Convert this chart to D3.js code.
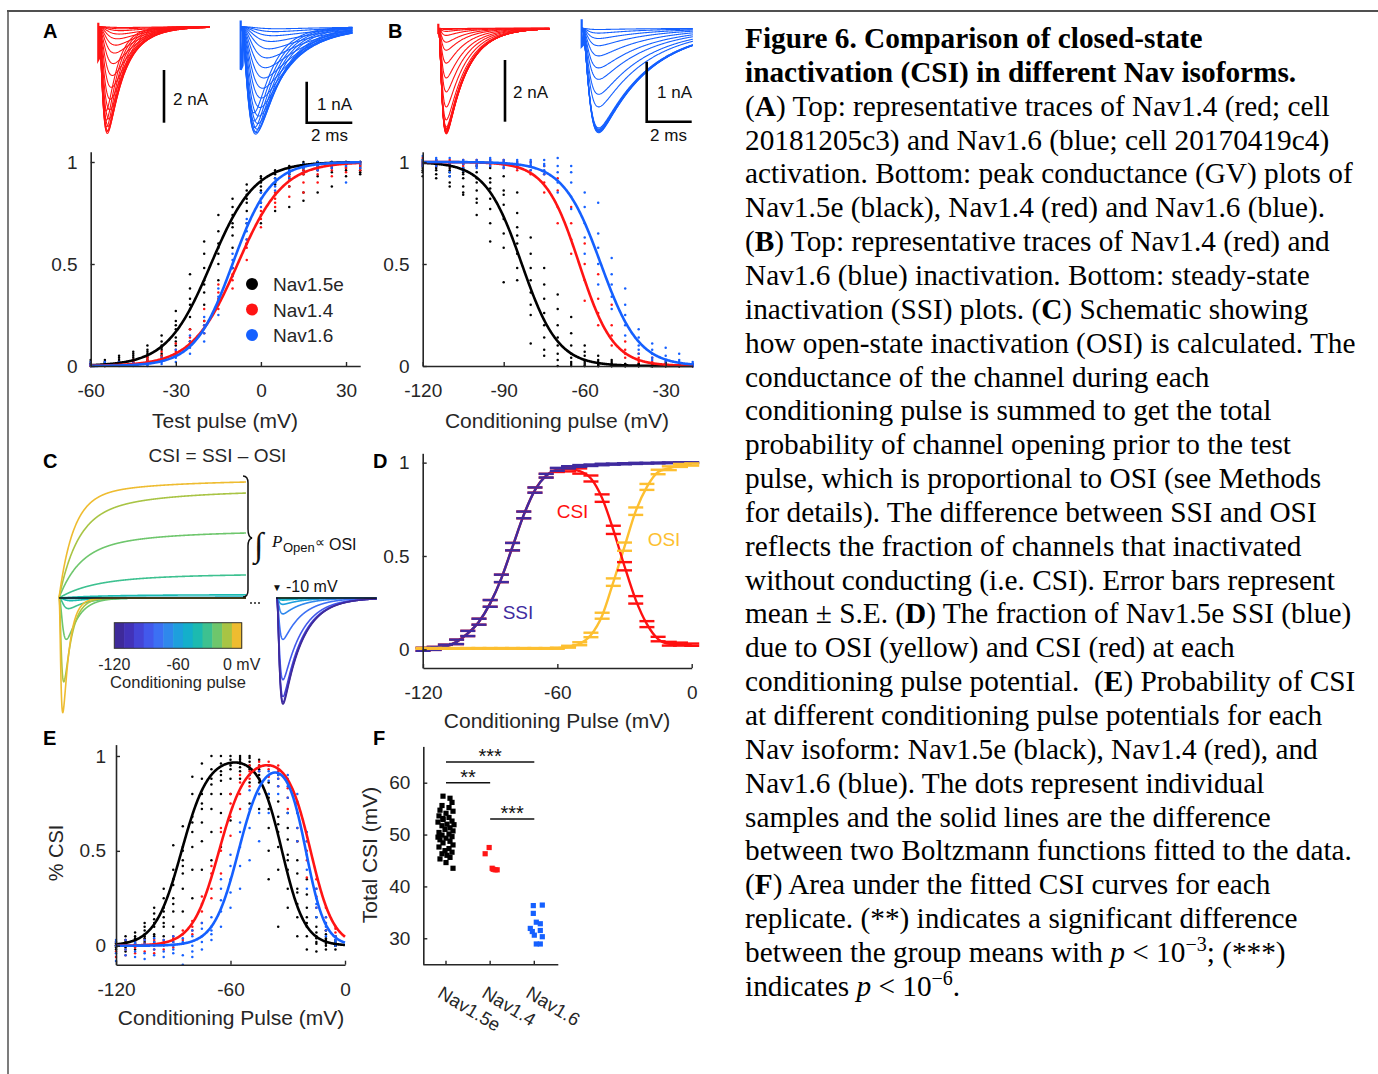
<!DOCTYPE html>
<html><head><meta charset="utf-8">
<script src="https://cdn.jsdelivr.net/npm/d3@7/dist/d3.min.js"></script>
<style>
html,body{margin:0;padding:0;background:#fff;}
svg{display:block;}
text{white-space:pre;}
</style></head>
<body>
<svg id="fig" width="1378" height="1074"></svg>
<script>
// ================= DATA =================
const isoforms = ["Nav1.5e", "Nav1.4", "Nav1.6"];
const isoColors = ["#000000", "#ff1414", "#1560ff"];

// ---- Panel A (bottom): activation GV, individual cells ----
const actV = [-60,-55,-50,-45,-40,-35,-30,-25,-20,-15,-10,-5,0,5,10,15,20,25,30,35];
const actBlack = [
[0,0.01,0.01,0.02,0,0.01,0.03,0.005],[0,0.01,0.02,0.01,0.03,0.005,0.015,0.02],
[0.01,0.02,0.03,0.04,0.01,0.02,0.05,0.015],[0.01,0.03,0.04,0.05,0.02,0.06,0.03,0.07],
[0.02,0.04,0.06,0.08,0.03,0.05,0.1,0.07],[0.03,0.06,0.09,0.12,0.15,0.05,0.1,0.08],
[0.05,0.1,0.14,0.18,0.22,0.27,0.12,0.2],[0.12,0.18,0.24,0.28,0.33,0.38,0.45,0.3],
[0.22,0.3,0.36,0.42,0.48,0.55,0.61,0.4],[0.32,0.42,0.5,0.55,0.6,0.66,0.74,0.58],
[0.48,0.58,0.64,0.7,0.74,0.78,0.82,0.68],[0.6,0.7,0.76,0.8,0.84,0.86,0.89,0.82],
[0.7,0.8,0.85,0.88,0.9,0.92,0.93,0.86],[0.76,0.84,0.89,0.92,0.94,0.96,0.95,0.9],
[0.78,0.88,0.92,0.95,0.97,0.98,0.96,0.94],[0.81,0.85,0.94,0.96,0.98,0.99,1.0,0.97],
[0.85,0.93,0.96,0.98,0.99,1.0,1.0,0.97],[0.88,0.95,0.97,0.98,0.99,1.0,1.0,0.99],
[0.93,0.96,0.98,0.99,1.0,1.0,0.99,0.97],[0.94,0.96,0.98,0.99,1.0,1.0,0.97,0.95]];
const actRed = [
[0,0.005,0.01,0],[0,0.01,0.005,0.01],[0.01,0.005,0.02,0.01],[0.01,0.02,0.03,0.015],
[0.02,0.03,0.04,0.05],[0.03,0.05,0.07,0.04],[0.05,0.08,0.11,0.07],[0.1,0.14,0.18,0.12],
[0.16,0.22,0.28,0.2],[0.28,0.33,0.4,0.36],[0.38,0.42,0.48,0.45],[0.52,0.58,0.62,0.6],
[0.68,0.72,0.76,0.74],[0.78,0.82,0.85,0.8],[0.83,0.88,0.91,0.93],[0.85,0.9,0.94,0.96],
[0.9,0.94,0.97,0.96],[0.93,0.96,0.98,0.99],[0.95,0.97,0.99,1.0],[0.96,0.98,0.99,1.0]];
const actBlue = [
[0,0.01,0.02,0.005],[0,0.01,0.02,0.005],[0,0.01,0.02,0.005],[0,0.01,0.015,0.005],
[0,0.01,0.02,0.005],[0.01,0.02,0.03,0.04],[0.02,0.04,0.06,0.08],[0.06,0.09,0.12,0.15],
[0.12,0.16,0.2,0.24],[0.25,0.3,0.34,0.38],[0.44,0.48,0.52,0.55],[0.62,0.66,0.7,0.72],
[0.78,0.82,0.85,0.8],[0.86,0.9,0.92,0.88],[0.92,0.95,0.96,0.94],[0.95,0.97,0.98,0.99],
[0.96,0.98,0.99,1.0],[0.97,0.98,0.99,1.0],[0.9,0.98,0.99,1.0],[0.97,0.99,1.0,1.0]];
const actHalf = [-17.6, -8.2, -10.0];   // Boltzmann V1/2 (mV)
const actSlope = [7.75, 8.0, 6.7];      // Boltzmann k (mV)

// ---- Panel B (bottom): steady-state inactivation ----
const inactV = [-120,-115,-110,-105,-100,-95,-90,-85,-80,-75,-70,-65,-60,-55,-50,-45,-40,-35,-30,-25,-20];
const inactBlack = [
[1,0.99,0.98,0.97,0.95,0.93,1.01,0.96],[1,0.99,0.98,0.96,0.94,0.92,1.01,0.97],
[1,0.99,0.97,0.95,0.93,0.9,0.88,0.96],[0.99,0.97,0.95,0.92,0.88,0.85,0.84,0.94],
[0.98,0.95,0.9,0.86,0.82,0.8,0.74,0.92],[0.97,0.92,0.87,0.82,0.77,0.7,0.61,0.9],
[0.93,0.86,0.79,0.72,0.65,0.58,0.41,0.84],[0.85,0.75,0.68,0.6,0.55,0.48,0.42,0.64],
[0.63,0.55,0.48,0.42,0.36,0.3,0.25,0.11],[0.48,0.4,0.33,0.26,0.2,0.14,0.08,0.05],
[0.35,0.28,0.2,0.14,0.1,0.06,0.03,0],[0.24,0.16,0.1,0.06,0.04,0.02,0.01,0],
[0.1,0.07,0.05,0.03,0.02,0.01,0,0],[0.05,0.03,0.02,0.01,0,0,0.01,0],
[0.03,0.02,0.01,0,0,0.01,0,0],[0.01,0.005,0,0,0.01,0,0,0],[0.01,0.005,0,0,0.01,0,0,0],
[0.01,0.005,0,0,0.01,0,0,0],[0.01,0.005,0,0,0.01,0,0,0],[0.01,0.005,0,0,0.01,0,0,0],
[0.01,0.005,0,0,0.01,0,0,0]];
const inactRed = [
[1.02,1,0.99,0.98],[1.01,1,0.99,0.98],[1.01,1,0.99,0.98],[1.01,1,0.99,0.98],
[1.01,1,0.99,0.98],[1.01,1,0.99,0.98],[1.01,1,0.99,0.97],[1,0.99,0.98,0.96],
[1,0.98,0.96,0.94],[0.98,0.94,0.9,0.85],[0.92,0.86,0.78,0.7],[0.78,0.7,0.62,0.55],
[0.6,0.5,0.42,0.32],[0.45,0.33,0.26,0.2],[0.3,0.2,0.15,0.1],[0.12,0.08,0.06,0.04],
[0.06,0.04,0.03,0.02],[0.04,0.02,0.01,0.01],[0.02,0.01,0.01,0],[0.01,0.01,0,0],[0.01,0,0,0]];
const inactBlue = [
[1.03,1.01,1,0.99,0.98],[1.02,1.01,1,0.99,0.98],[1.02,1,0.99,0.95,0.93],[1.01,1,0.99,0.97,0.96],
[1.01,1,0.99,0.98,0.97],[1.02,1.01,1,0.99,0.98],[1.01,1,0.99,0.98,0.97],[1.01,1,0.99,0.98,0.97],
[1.01,1,0.99,0.98,0.96],[1.01,0.99,0.98,0.96,0.94],[1.02,0.98,0.95,0.9,0.85],[0.98,0.95,0.9,0.83,0.77],
[0.85,0.78,0.7,0.63,0.55],[0.8,0.65,0.58,0.5,0.4],[0.53,0.45,0.4,0.34,0.28],[0.38,0.3,0.25,0.2,0.15],
[0.18,0.14,0.1,0.08,0.06],[0.11,0.08,0.06,0.04,0.03],[0.09,0.05,0.03,0.02,0.01],[0.06,0.03,0.02,0.01,0],
[0.02,0.01,0.01,0,0]];
const inactHalf = [-83.3, -62.0, -54.0];
const inactSlope = [6.7, 6.3, 7.0];

// ---- Panel A/B (top): current traces (peak nA, activation / inactivation time constants in ms) ----
const aRedAmp = [0.03,0.08,0.15,0.28,0.46,0.7,1.0,1.4,1.85,2.3,2.75,3.15,3.5,3.78,3.96,4.05,3.98,3.8,3.55,3.2];
const aRedTm  = [0.45,0.42,0.39,0.36,0.33,0.3,0.28,0.26,0.24,0.22,0.2,0.19,0.18,0.17,0.16,0.155,0.15,0.145,0.14,0.135];
const aRedTh  = [1.6,1.5,1.45,1.4,1.3,1.2,1.1,1.0,0.95,0.9,0.85,0.8,0.75,0.7,0.66,0.62,0.58,0.55,0.52,0.5];
const aBlueAmp = [0.05,0.12,0.22,0.36,0.54,0.76,1.0,1.25,1.5,1.74,1.97,2.18,2.36,2.5,2.58,2.62,2.57,2.46,2.3,2.1];
const aBlueTm  = [0.65,0.6,0.56,0.52,0.48,0.44,0.41,0.38,0.36,0.34,0.32,0.3,0.29,0.28,0.27,0.26,0.25,0.245,0.24,0.235];
const aBlueTh  = [2.4,2.3,2.2,2.1,2.0,1.9,1.8,1.7,1.6,1.5,1.4,1.3,1.2,1.15,1.1,1.0,0.95,0.9,0.86,0.82];
const bRedAmp = [3.42,3.4,3.38,3.36,3.35,3.33,3.3,3.28,3.25,3.2,2.97,2.55,2.06,1.61,1.13,0.71,0.45,0.23,0.1,0.04,0.01];
const bRedTm = 0.11, bRedTh = 0.9;
const bBlueAmp = [1.74,1.73,1.72,1.71,1.7,1.69,1.68,1.66,1.31,1.1,0.85,0.66,0.46,0.29,0.17,0.08,0.02];
const bBlueTm = 0.22, bBlueTh = 2.2;
const artifact = {aRed: 1.25, aBlue: 1.05, bRed: 0.15, bBlue: 0.3}; // capacitive transient depth (nA)

// ---- Panel C: schematic (Nav1.5e), conditioning voltages and parula colours ----
const condV = [-120,-110,-100,-90,-80,-70,-60,-50,-40,-30,-20,-10,0];
const condColors = ["#3e2a9a","#4232b8","#4444d6","#4259ec","#3c70f4","#2f88ec","#1e9fdd","#14afcb","#1cbab0","#3dc190","#6ec66c","#a8c444","#eebc30"];
const condPeak = [0,0,0,0,0,0,0,0.005,0.025,0.1,0.39,0.79,1.08];       // conditioning current (norm.)
const condTm   = [1.2,1.2,1.2,1.2,1.2,1.2,1.2,1.2,1.1,0.9,0.7,0.45,0.35];
const condTh   = [5,5,5,5,5,5,5,5,5,4,3,2,1.6];
const testAmp  = [1.0,0.98,0.93,0.77,0.39,0.15,0.06,0.02,0.01,0.005,0,0,0]; // test pulse current (norm.)
const openEnd  = [0,0,0,0,0,0,0,0.008,0.03,0.217,0.613,0.99,1.094];       // integral of P_open (norm.)
const openTf   = [8,8,8,8,8,8,8,8,8,7,5,4.5,3.5];
const openW    = [0.5,0.5,0.5,0.5,0.5,0.5,0.5,0.5,0.5,0.55,0.7,0.75,0.85];

// ---- Panel D: Nav1.5e SSI, OSI, CSI (mean ± SE) ----
const dV = [-120,-115,-110,-105,-100,-95,-90,-85,-80,-75,-70,-65,-60,-55,-50,-45,-40,-35,-30,-25,-20,-15,-10,-5,0];
const dSSI   = [0,0.005,0.015,0.04,0.085,0.148,0.246,0.38,0.55,0.72,0.853,0.93,0.964,0.975,0.982,0.986,0.99,0.992,0.994,0.996,0.997,0.998,0.999,1.0,1.0];
const dSSIse = [0.008,0.008,0.01,0.012,0.014,0.016,0.018,0.02,0.02,0.018,0.014,0.01,0.008,0.006,0.005,0.004,0.004,0.003,0.003,0.003,0.002,0.002,0.002,0.002,0.002];
const dOSI   = [0.005,0.005,0.005,0.005,0.005,0.005,0.005,0.005,0.005,0.005,0.005,0.005,0.006,0.014,0.03,0.077,0.18,0.36,0.55,0.74,0.87,0.95,0.97,0.985,0.99];
const dOSIse = [0.002,0.002,0.002,0.002,0.002,0.002,0.002,0.002,0.002,0.002,0.002,0.002,0.003,0.005,0.008,0.012,0.016,0.02,0.022,0.02,0.016,0.012,0.01,0.008,0.006];
const dCSI   = [0,0.005,0.015,0.04,0.085,0.148,0.246,0.38,0.55,0.72,0.853,0.93,0.96,0.965,0.955,0.915,0.81,0.64,0.445,0.265,0.135,0.055,0.03,0.028,0.025];
const dCSIse = [0.008,0.008,0.01,0.012,0.014,0.016,0.018,0.02,0.02,0.018,0.014,0.01,0.01,0.012,0.014,0.016,0.02,0.022,0.022,0.02,0.016,0.012,0.01,0.008,0.006];
const dColors = {SSI: "#3f2b9f", CSI: "#ff1010", OSI: "#fdbf30"};

// ---- Panel E: probability of CSI, individual cells ----
const eV = [-120,-115,-110,-105,-100,-95,-90,-85,-80,-75,-70,-65,-60,-55,-50,-45,-40,-35,-30,-25,-20,-15,-10,-5];
const eBlack = [
[0,-0.02,0.01,0,0.02,-0.01,0,0.01],[0,0.02,0.05,-0.03,0.01,0.03,-0.01,0],
[0,0.02,0.04,0.07,-0.02,0.01,0.05,0.03],[0.02,0.05,0.08,0.12,0,0.04,0.1,0.06],
[0.02,0.06,0.1,0.14,0.2,0.05,0.12,0.17],[0.05,0.1,0.15,0.2,0.25,0.3,0.12,0.18],
[0.1,0.18,0.25,0.32,0.4,0.53,0.22,0.35],[0.18,0.3,0.38,0.45,0.52,0.63,0.42,0.5],
[0.25,0.4,0.52,0.6,0.68,0.8,0.89,0.65],[0.4,0.55,0.65,0.72,0.8,0.88,0.96,0.75],
[0.45,0.6,0.72,0.8,0.88,0.93,1.0,0.85],[0.52,0.7,0.8,0.87,0.92,0.96,1.0,0.9],
[0.66,0.8,0.88,0.93,0.96,0.98,1.0,0.95],[0.88,0.92,0.94,0.96,0.98,0.99,1.0,0.97],
[0.75,0.86,0.9,0.93,0.95,0.97,0.99,1.0],[0.72,0.8,0.86,0.9,0.93,0.95,0.98,0.88],
[0.35,0.5,0.62,0.72,0.8,0.86,0.95,0.78],[0.1,0.4,0.52,0.6,0.68,0.76,0.9,0.64],
[0.2,0.3,0.4,0.48,0.56,0.62,0.7,0.45],[0.05,0.15,0.22,0.3,0.38,0.45,0.55,0.28],
[-0.02,0.05,0.1,0.15,0.2,0.27,0.35,0.12],[-0.03,0.01,0.04,0.07,0.1,0.15,0.05,0.02],
[-0.02,0,0.02,0.04,0.06,0.08,0.01,0.03],[-0.02,0,0.01,0.02,0.03,0.05,0,0.01]];
const eRed = [
[0,-0.03,0.02,-0.06],[0.01,-0.02,0.03,-0.05],[0,-0.04,0.02,-0.01],[0.01,-0.03,0.03,0],
[0,-0.02,0.03,-0.04],[0.01,0.03,-0.02,0.02],[0.02,0.05,-0.01,0.04],[0.03,0.06,0.08,0.01],
[0.06,0.1,0.13,0.08],[0.12,0.18,0.22,0.26],[0.25,0.3,0.38,0.42],[0.38,0.5,0.6,0.62],
[0.58,0.68,0.75,0.8],[0.72,0.8,0.86,0.9],[0.84,0.88,0.92,0.95],[0.88,0.92,0.95,0.97],
[0.89,0.93,0.95,0.97],[0.84,0.88,0.92,0.95],[0.72,0.78,0.83,0.86],[0.55,0.62,0.7,0.75],
[0.36,0.45,0.5,0.55],[0.2,0.26,0.3,0.35],[0.08,0.12,0.15,0.2],[0.05,0.07,0.09,0.1]];
const eBlue = [
[0,-0.04,0.02,-0.08,0.03],[0,-0.05,0.03,-0.02,0.01],[0.01,-0.03,0.02,-0.06,0],[0,-0.04,0.03,-0.07,0.01],
[0,-0.02,0.04,-0.05,0.02],[0.01,-0.03,0.03,-0.06,0],[0,-0.04,0.05,-0.02,0.02],[0.01,-0.05,0.04,-0.1,0.02],
[0,-0.03,0.05,0.08,-0.06],[0.02,0.05,0.09,-0.02,0.12],[0.03,0.06,0.1,0.15,0.08],[0.1,0.18,0.24,0.3,0.35],
[0.2,0.28,0.35,0.42,0.48],[0.3,0.42,0.52,0.6,0.65],[0.45,0.62,0.72,0.82,0.9],[0.55,0.7,0.8,0.88,0.92],
[0.7,0.8,0.87,0.92,0.95],[0.8,0.84,0.88,0.9,0.93],[0.7,0.78,0.84,0.88,0.9],[0.55,0.62,0.7,0.76,0.8],
[0.3,0.4,0.48,0.55,0.6],[0.15,0.2,0.25,0.3,0.22],[0.05,0.08,0.1,0.15,0.12],[0,0.02,0.03,0.05,0.01]];
// CSI = Boltzmann(V; V1,k1) - Boltzmann(V; V2,k2)
const csiV1 = [-85.6, -66.0, -55.8];
const csiK1 = [7.0, 7.0, 6.5];
const csiV2 = [-33.0, -18.0, -20.4];
const csiK2 = [6.0, 6.0, 5.0];

// ---- Panel F: total CSI per replicate (mV) ----
const fBlack = [57.4,57.0,56.2,55.6,55.2,54.7,54.5,54.1,53.6,53.3,52.9,52.6,52.4,52.0,51.7,51.3,51.0,50.7,50.4,50.1,49.9,49.6,49.3,49.0,48.7,48.4,48.0,47.6,47.3,46.9,46.6,46.3,46.0,45.6,45.3,44.6,43.5,53.1,51.9,49.5];
const fBlackJit = [-3,4,6,-4,3,-6,7,0,-7,3,-3,6,-8,1,-4,4,-1,7,-7,3,-4,6,0,-6,4,-3,7,-7,3,-1,6,-4,1,4,-6,0,7,-3,8,-8];
const fRed = [47.5,46.3,43.5,43.2,43.2,43.3];
const fRedJit = [-1,-5,2,5,7,3];
const fBlue = [36.3,36.4,34.8,33.1,32.8,31.9,31.3,31.5,30.6,30.3,28.9,28.9];
const fBlueJit = [-1,8,-1,2,6,-4,-2,6,0,8,2,6];
const fSig = [[0,2,"***",64],[0,1,"**",60],[1,2,"***",53]];

// ---- Caption ----
const captionLines = [
"<b>Figure 6. Comparison of closed-state</b>",
"<b>inactivation (CSI) in different Nav isoforms.</b>",
"(<b>A</b>) Top: representative traces of Nav1.4 (red; cell",
"20181205c3) and Nav1.6 (blue; cell 20170419c4)",
"activation. Bottom: peak conductance (GV) plots of",
"Nav1.5e (black), Nav1.4 (red) and Nav1.6 (blue).",
"(<b>B</b>) Top: representative traces of Nav1.4 (red) and",
"Nav1.6 (blue) inactivation. Bottom: steady-state",
"inactivation (SSI) plots. (<b>C</b>) Schematic showing",
"how open-state inactivation (OSI) is calculated. The",
"conductance of the channel during each",
"conditioning pulse is summed to get the total",
"probability of channel opening prior to the test",
"pulse, which is proportional to OSI (see Methods",
"for details). The difference between SSI and OSI",
"reflects the fraction of channels that inactivated",
"without conducting (i.e. CSI). Error bars represent",
"mean ± S.E. (<b>D</b>) The fraction of Nav1.5e SSI (blue)",
"due to OSI (yellow) and CSI (red) at each",
"conditioning pulse potential.  (<b>E</b>) Probability of CSI",
"at different conditioning pulse potentials for each",
"Nav isoform: Nav1.5e (black), Nav1.4 (red), and",
"Nav1.6 (blue). The dots represent individual",
"samples and the solid lines are the difference",
"between two Boltzmann functions fitted to the data.",
"(<b>F</b>) Area under the fitted CSI curves for each",
"replicate. (**) indicates a significant difference",
"between the group means with <i>p</i> &lt; 10<sup>−3</sup>; (***)",
"indicates <i>p</i> &lt; 10<sup>−6</sup>."
];

// ================= DRAWING =================
const svg = d3.select("#fig");
const SANS = "'Liberation Sans', Arial, Helvetica, sans-serif";
const SERIF = "'Liberation Serif', 'Times New Roman', serif";
const AXC = "#262626";

svg.append("rect").attr("width",1378).attr("height",1074).attr("fill","#fff");
svg.append("line").attr("x1",7).attr("x2",1378).attr("y1",11).attr("y2",11).attr("stroke","#505050").attr("stroke-width",2);
svg.append("line").attr("x1",8).attr("x2",8).attr("y1",10).attr("y2",1074).attr("stroke","#505050").attr("stroke-width",1.5);

function text(x, y, s, o = {}) {
  const t = svg.append("text").attr("x", x).attr("y", y).text(s)
    .attr("font-family", o.family || SANS).attr("font-size", o.size || 19)
    .attr("fill", o.fill || AXC).attr("text-anchor", o.anchor || "start");
  if (o.weight) t.attr("font-weight", o.weight);
  if (o.style) t.attr("font-style", o.style);
  if (o.transform) t.attr("transform", o.transform);
  return t;
}
function styleAxis(g) {
  g.attr("font-family", SANS);
  g.select(".domain").attr("stroke", AXC).attr("stroke-width", 1.6);
  g.selectAll(".tick line").attr("stroke", AXC).attr("stroke-width", 1.4);
  g.selectAll(".tick text").attr("fill", AXC).attr("font-size", 19).attr("font-family", SANS);
}
function leftAxis(scale, x, ticks, pad) {
  const g = svg.append("g").attr("transform", `translate(${x},0)`)
    .call(d3.axisLeft(scale).tickValues(ticks).tickFormat(d => String(d)).tickSizeInner(-4).tickSizeOuter(0).tickPadding(pad));
  styleAxis(g); return g;
}
function bottomAxis(scale, y, ticks, fmt) {
  const g = svg.append("g").attr("transform", `translate(0,${y})`)
    .call(d3.axisBottom(scale).tickValues(ticks).tickFormat(fmt || (d => String(d))).tickSizeInner(-4).tickSizeOuter(0).tickPadding(18));
  styleAxis(g); return g;
}
const bAct = (V, h, k) => 1 / (1 + Math.exp((h - V) / k));
const bInact = (V, h, k) => 1 / (1 + Math.exp((V - h) / k));

function dots(xs, ys, Vs, groups, color, r) {
  const pts = [];
  groups.forEach((arr, i) => arr.forEach(v => pts.push([Vs[i], v])));
  svg.append("g").selectAll("circle").data(pts).join("circle")
    .attr("cx", d => xs(d[0])).attr("cy", d => ys(d[1])).attr("r", r || 1.25).attr("fill", color);
}
function curve(xs, ys, lo, hi, f, color, w) {
  const grid = d3.range(lo, hi + 0.001, 0.25);
  svg.append("path").datum(grid).attr("fill", "none").attr("stroke", color).attr("stroke-width", w || 2.6)
    .attr("d", d3.line().x(v => xs(v)).y(v => ys(f(v))));
}

// ---------- Panel letters ----------
[["A",43,38],["B",388,38],["C",43,468],["D",373,468],["E",43,745],["F",373,745]].forEach(([l,x,y]) =>
  text(x, y, l, {size: 20, weight: "bold", fill: "#000"}));

// ---------- Traces (A,B top) ----------
function naShape(tm, th) {
  const f = t => t <= 0 ? 0 : Math.pow(1 - Math.exp(-t / tm), 3) * Math.exp(-t / th);
  let pk = 0; for (let t = 0; t < 20; t += 0.005) pk = Math.max(pk, f(t));
  return t => f(t) / pk;
}
function traceFamily(amps, tms, ths, x0, pxPerMs, base, pxPerNa, tEnd, color, art) {
  const tx = d3.scaleLinear().domain([0, tEnd]).range([x0, x0 + tEnd * pxPerMs]);
  const iy = d3.scaleLinear().domain([0, -1]).range([base, base + pxPerNa]);
  const g = svg.append("g");
  amps.forEach((a, i) => {
    const tm = Array.isArray(tms) ? tms[i] : tms, th = Array.isArray(ths) ? ths[i] : ths;
    const s = naShape(tm, th);
    const ts = d3.range(0, tEnd + 0.001, 0.02);
    g.append("path").datum(ts).attr("fill", "none").attr("stroke", color).attr("stroke-width", 1.1)
      .attr("d", d3.line().x(t => tx(t)).y(t => iy(-a * s(t))));
  });
  g.append("path").attr("fill", "none").attr("stroke", color).attr("stroke-width", 2.2)
    .attr("d", `M${tx(0)},${iy(0.15)} L${tx(0)},${iy(-art)} L${tx(0.08)},${iy(-art * 0.9)} L${tx(0.12)},${iy(0)}`);
  return {tx, iy};
}
traceFamily(aRedAmp, aRedTm, aRedTh, 98.3, 22.8, 26.7, 26.35, 4.9, isoColors[1], artifact.aRed);
traceFamily(aBlueAmp, aBlueTm, aBlueTh, 240.7, 22.8, 26.7, 41, 4.9, isoColors[2], artifact.aBlue);
traceFamily(bRedAmp, bRedTm, bRedTh, 438.3, 22.5, 28.3, 30.85, 4.95, isoColors[1], artifact.bRed);
traceFamily(bBlueAmp, bBlueTm, bBlueTh, 581.7, 22.5, 28.3, 60, 4.95, isoColors[2], artifact.bBlue);

function bar(pts) {
  svg.append("path").attr("fill", "none").attr("stroke", "#000").attr("stroke-width", 2.6)
    .attr("d", d3.line()(pts));
}
bar([[164, 70], [164, 122.7]]);
text(173, 105, "2 nA", {size: 17, fill: "#111"});
bar([[306.7, 81.7], [306.7, 122.7], [352.3, 122.7]]);
text(317, 110, "1 nA", {size: 17, fill: "#111"});
text(329.5, 140.5, "2 ms", {size: 17, fill: "#111", anchor: "middle"});
bar([[505, 60], [505, 121.7]]);
text(513, 98, "2 nA", {size: 17, fill: "#111"});
bar([[646.7, 61.7], [646.7, 121.7], [691.7, 121.7]]);
text(657, 98, "1 nA", {size: 17, fill: "#111"});
text(668.5, 140.5, "2 ms", {size: 17, fill: "#111", anchor: "middle"});

// ---------- Panel A: GV ----------
{
  const x = d3.scaleLinear().domain([-60, 35]).range([90.7, 360.2]);
  const y = d3.scaleLinear().domain([0, 1.05]).range([366, 151.8]);
  dots(x, y, actV, actBlack, isoColors[0]);
  dots(x, y, actV, actRed, isoColors[1]);
  dots(x, y, actV, actBlue, isoColors[2]);
  [0, 1, 2].forEach(i => curve(x, y, -60, 35, v => bAct(v, actHalf[i], actSlope[i]), isoColors[i]));
  leftAxis(y, 90.7, [0, 0.5, 1], 13);
  bottomAxis(x, 366, [-60, -30, 0, 30]);
  text(225, 428, "Test pulse (mV)", {size: 21, anchor: "middle"});
  isoforms.forEach((n, i) => {
    svg.append("circle").attr("cx", 252).attr("cy", 284 + i * 25.5).attr("r", 6).attr("fill", isoColors[i]);
    text(273, 291 + i * 25.5, n, {size: 19});
  });
}

// ---------- Panel B: SSI ----------
{
  const x = d3.scaleLinear().domain([-120, -20]).range([422.7, 692.7]);
  const y = d3.scaleLinear().domain([0, 1.05]).range([366, 151.8]);
  dots(x, y, inactV, inactBlack, isoColors[0]);
  dots(x, y, inactV, inactRed, isoColors[1]);
  dots(x, y, inactV, inactBlue, isoColors[2]);
  [0, 1, 2].forEach(i => curve(x, y, -120, -20, v => bInact(v, inactHalf[i], inactSlope[i]), isoColors[i]));
  leftAxis(y, 422.7, [0, 0.5, 1], 13);
  bottomAxis(x, 366, [-120, -90, -60, -30]);
  text(557, 428, "Conditioning pulse (mV)", {size: 21, anchor: "middle"});
}

// ---------- Panel C: schematic ----------
{
  text(217.5, 462, "CSI = SSI \u2013 OSI", {size: 19, anchor: "middle"});
  const tC = d3.scaleLinear().domain([0, 46.75]).range([59, 246]);
  const tT = d3.scaleLinear().domain([0, 25]).range([276.7, 376.7]);
  const yC = d3.scaleLinear().domain([0, -1]).range([598, 704]);
  const ts = d3.range(0, 46.75 + 0.001, 0.05);
  const tt = d3.range(0, 25.001, 0.05);
  const openF = (t, tf, w) => 1 - w * Math.exp(-t / tf) - (1 - w) * Math.exp(-t / 20);
  const g = svg.append("g");
  condV.forEach((v, i) => {
    const endV = openF(46.75, openTf[i], openW[i]);
    g.append("path").datum(ts).attr("fill", "none").attr("stroke", condColors[i]).attr("stroke-width", 1.6)
      .attr("d", d3.line().x(t => tC(t)).y(t => yC(openEnd[i] * openF(t, openTf[i], openW[i]) / endV)));
  });
  condV.forEach((v, i) => {
    const s = naShape(condTm[i], condTh[i]);
    g.append("path").datum(ts).attr("fill", "none").attr("stroke", condColors[i]).attr("stroke-width", 1.6)
      .attr("d", d3.line().x(t => tC(t)).y(t => yC(-condPeak[i] * s(t))));
  });
  const sT = naShape(0.45, 4.8);
  condV.slice().reverse().forEach((v, j) => {
    const i = condV.length - 1 - j;
    g.append("path").datum(tt).attr("fill", "none").attr("stroke", condColors[i]).attr("stroke-width", 1.6)
      .attr("d", d3.line().x(t => tT(t)).y(t => yC(-testAmp[i] * sT(t))));
  });
  svg.append("line").attr("x1", 59).attr("x2", 246).attr("y1", 598).attr("y2", 598).attr("stroke", "#111").attr("stroke-width", 1.5);
  svg.append("line").attr("x1", 276).attr("x2", 376.7).attr("y1", 598).attr("y2", 598).attr("stroke", "#111").attr("stroke-width", 1.5);
  [251, 255, 259].forEach(cx => svg.append("circle").attr("cx", cx).attr("cy", 603).attr("r", 1).attr("fill", "#222"));
  svg.append("path").attr("fill", "none").attr("stroke", "#111").attr("stroke-width", 1.5)
    .attr("d", "M243,476 Q248,476 248,483 L248,529 Q248,537 252,538 Q248,539 248,546 L248,590 Q248,597 243,597");
  text(254, 556, "\u222B", {size: 34, family: SERIF, fill: "#111", style: "italic"});
  text(272, 547, "P", {size: 17, family: SERIF, fill: "#111", style: "italic"});
  text(283, 552, "Open", {size: 13, fill: "#111"});
  text(315, 547, "\u221D", {size: 14, family: SERIF, fill: "#111"});
  text(329, 550, "OSI", {size: 16, fill: "#111"});
  text(272, 591, "\u25BC", {size: 10, fill: "#111"});
  text(286, 592, "-10 mV", {size: 16, fill: "#111"});
  const cb = d3.scaleBand().domain(condV).range([114.3, 241.7]);
  svg.append("g").selectAll("rect").data(condV).join("rect")
    .attr("x", d => cb(d)).attr("width", cb.bandwidth() + 0.5).attr("y", 622.7).attr("height", 25.6)
    .attr("fill", (d, i) => condColors[i]);
  svg.append("rect").attr("x", 114.3).attr("y", 622.7).attr("width", 127.4).attr("height", 25.6)
    .attr("fill", "none").attr("stroke", "#333").attr("stroke-width", 1);
  const cbs = d3.scaleLinear().domain([-120, 0]).range([114.3, 241.7]);
  [[-120, "-120"], [-60, "-60"], [0, "0 mV"]].forEach(([v, s]) =>
    text(cbs(v), 670, s, {size: 16, anchor: "middle"}));
  text(178, 688, "Conditioning pulse", {size: 16.5, anchor: "middle"});
}

// ---------- Panel D ----------
{
  const x = d3.scaleLinear().domain([-120, 0]).range([423, 691.7]);
  const y = d3.scaleLinear().domain([-0.1, 1.05]).range([668, 453.3]);
  [["OSI", dOSI], ["CSI", dCSI], ["SSI", dSSI]].forEach(([k, m]) => {
    svg.append("path").datum(dV.map((v, i) => [v, m[i]])).attr("fill", "none")
      .attr("stroke", dColors[k]).attr("stroke-width", 2.4)
      .attr("d", d3.line().x(d => x(d[0])).y(d => y(d[1])).curve(d3.curveMonotoneX));
  });
  [["CSI", dCSI, dCSIse], ["SSI", dSSI, dSSIse], ["OSI", dOSI, dOSIse]].forEach(([k, m, se]) => {
    const g = svg.append("g").attr("stroke", dColors[k]).attr("stroke-width", 2.4);
    dV.forEach((v, i) => {
      const cx = x(v);
      [m[i] - se[i], m[i] + se[i]].forEach(yy => g.append("line").attr("x1", cx - 7.5).attr("x2", cx + 7.5)
        .attr("y1", y(yy)).attr("y2", y(yy)));
    });
  });
  leftAxis(y, 422.7, [0, 0.5, 1], 13);
  bottomAxis(x, 668, [-120, -60, 0]);
  text(557, 728, "Conditioning Pulse (mV)", {size: 21, anchor: "middle"});
  text(572.5, 518, "CSI", {size: 19, anchor: "middle", fill: dColors.CSI});
  text(664, 546, "OSI", {size: 19, anchor: "middle", fill: dColors.OSI});
  text(518, 619, "SSI", {size: 19, anchor: "middle", fill: dColors.SSI});
}

// ---------- Panel E ----------
{
  const x = d3.scaleLinear().domain([-120, 0]).range([116, 345]);
  const y = d3.scaleLinear().domain([-0.1, 1.06]).range([964.7, 744.6]);
  dots(x, y, eV, eBlack, isoColors[0]);
  dots(x, y, eV, eRed, isoColors[1]);
  dots(x, y, eV, eBlue, isoColors[2]);
  [0, 1, 2].forEach(i => curve(x, y, -120, 0, v => bAct(v, csiV1[i], csiK1[i]) - bAct(v, csiV2[i], csiK2[i]), isoColors[i]));
  leftAxis(y, 116, [0, 0.5, 1], 10);
  bottomAxis(x, 964.7, [-120, -60, 0]);
  text(231, 1025, "Conditioning Pulse (mV)", {size: 21, anchor: "middle"});
  text(0, 0, "% CSI", {size: 20, anchor: "middle", transform: "translate(63,853) rotate(-90)"});
}

// ---------- Panel F ----------
{
  const x = d3.scalePoint().domain(isoforms).range([446, 534.3]);
  const y = d3.scaleLinear().domain([25, 67]).range([964.2, 746.4]);
  const groups = [[fBlack, fBlackJit], [fRed, fRedJit], [fBlue, fBlueJit]];
  groups.forEach(([vals, jit], gi) => {
    svg.append("g").selectAll("rect").data(vals).join("rect")
      .attr("x", (d, i) => x(isoforms[gi]) + jit[i] - 2.6).attr("y", d => y(d) - 2.6)
      .attr("width", 5.2).attr("height", 5.2).attr("fill", isoColors[gi]);
  });
  leftAxis(y, 423.3, [30, 40, 50, 60], 13);
  const gx = svg.append("g").attr("transform", "translate(0,964.7)");
  gx.append("line").attr("x1", 423.3).attr("x2", 558.3).attr("stroke", AXC).attr("stroke-width", 1.6);
  isoforms.forEach(n => {
    gx.append("line").attr("x1", x(n)).attr("x2", x(n)).attr("y1", 0).attr("y2", -4).attr("stroke", AXC).attr("stroke-width", 1.4);
    text(0, 0, n, {size: 18.5, transform: `translate(${x(n) - 9.5},996.5) rotate(31)`});
  });
  fSig.forEach(([a, b, s, v]) => {
    svg.append("line").attr("x1", x(isoforms[a])).attr("x2", x(isoforms[b])).attr("y1", y(v)).attr("y2", y(v))
      .attr("stroke", "#111").attr("stroke-width", 1.4);
    text((x(isoforms[a]) + x(isoforms[b])) / 2, y(v) + 1, s, {size: 20, anchor: "middle", fill: "#111"});
  });
  text(0, 0, "Total CSI (mV)", {size: 21, anchor: "middle", transform: "translate(377,855) rotate(-90)"});
}

// ---------- Caption ----------
{
  const decode = s => s.replace(/&lt;/g, "<");
  captionLines.forEach((line, li) => {
    const t = svg.append("text").attr("x", 745).attr("y", 48 + li * 33.85)
      .attr("font-family", SERIF).attr("font-size", 29.3).attr("fill", "#000");
    const re = /<(b|i|sup)>(.*?)<\/\1>/g;
    let last = 0, m, shift = 0;
    const parts = [];
    while ((m = re.exec(line)) !== null) {
      if (m.index > last) parts.push(["n", line.slice(last, m.index)]);
      parts.push([m[1], m[2]]); last = re.lastIndex;
    }
    if (last < line.length) parts.push(["n", line.slice(last)]);
    parts.forEach(([k, s]) => {
      const sp = t.append("tspan").text(decode(s));
      let dy = 0;
      if (k === "sup") { dy = -11 - shift; shift = -11; sp.attr("font-size", 20); }
      else { dy = -shift; shift = 0; }
      if (dy) sp.attr("dy", dy);
      if (k === "b") sp.attr("font-weight", "bold");
      if (k === "i") sp.attr("font-style", "italic");
    });
  });
}
</script>
</body></html>
